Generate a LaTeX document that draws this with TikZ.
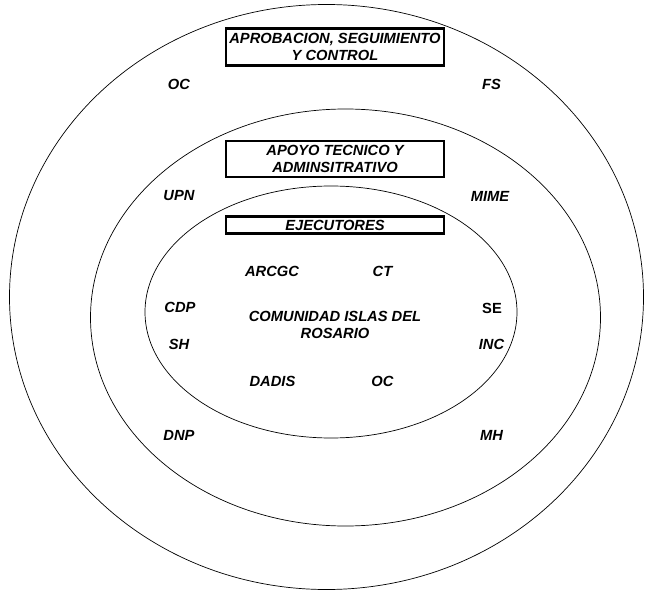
\documentclass[tikz,border=0pt]{standalone}
\usepackage{fontspec}
\setmainfont{Liberation Sans}
\begin{document}
\begin{tikzpicture}[x=1pt,y=-1pt,
  lbl/.style={font=\fontsize{14.7}{17.7}\selectfont\bfseries\itshape, inner sep=0pt, align=center},
  upl/.style={font=\fontsize{14.7}{17.7}\selectfont\bfseries, inner sep=0pt},
  title/.style={draw, line width=2.4pt, minimum width=218pt, inner sep=0pt,
     font=\fontsize{14.7}{17.7}\selectfont\bfseries\itshape, align=center},
  ring/.style={draw, line width=0.7pt}]
\useasboundingbox (0,0) rectangle (645,591);
% rings
\draw[ring] (326.5,297) ellipse [x radius=317pt, y radius=292.5pt];
\draw[ring] (345.5,317.5) ellipse [x radius=255pt, y radius=208.5pt];
\draw[ring] (331,312) ellipse [x radius=186pt, y radius=126pt];
% title boxes
\node[title, minimum height=37pt] (t1) at (335,47) {APROBACION, SEGUIMIENTO\\Y CONTROL};
\node[title, minimum height=36.5pt] (t2) at (335,159) {APOYO TECNICO Y\\ADMINSITRATIVO};
\node[title, minimum height=17pt] (t3) at (335,225) {EJECUTORES};
% outer ring labels
\node[lbl] (oc1) at (179,84) {OC};
\node[lbl] (fs) at (491.5,84) {FS};
\node[lbl] (dnp) at (179,435) {DNP};
\node[lbl] (mh) at (491.5,435) {MH};
% middle ring labels
\node[lbl] (upn) at (179,196) {UPN};
\node[lbl] (mime) at (490,196) {MIME};
\node[lbl] (cdp) at (180,307) {CDP};
\node[lbl] (sh) at (179,344) {SH};
\node[upl] (se) at (492,308) {SE};
\node[lbl] (inc) at (491.5,344) {INC};
% inner ring labels
\node[lbl] (arcgc) at (272,271) {ARCGC};
\node[lbl] (ct) at (382.5,271) {CT};
\node[lbl] (com) at (335,325) {COMUNIDAD ISLAS DEL\\ROSARIO};
\node[lbl] (dadis) at (272.5,381) {DADIS};
\node[lbl] (oc2) at (382.5,381) {OC};
\end{tikzpicture}
\end{document}
